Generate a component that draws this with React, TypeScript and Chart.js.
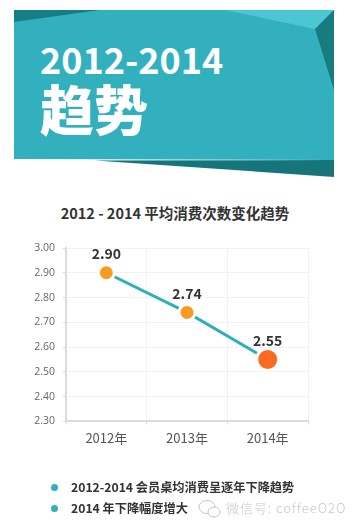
import React, { useEffect, useRef } from "react";
import { Chart, registerables } from "chart.js";

Chart.register(...registerables);

const categories = ["2012年", "2013年", "2014年"];
const values = [2.9, 2.74, 2.55];
const yMin = 2.3;
const yMax = 3.0;
const pointColors = ["#fb9a20", "#fb9a20", "#fb6a20"];
const pointRadii = [8, 8, 11];
const chartTitle = "2012 - 2014 平均消费次数变化趋势";
const bullets = ["2012-2014 会员桌均消费呈逐年下降趋势", "2014 年下降幅度增大"];

const CJK = '"Noto Sans CJK SC", "Noto Sans", sans-serif';

const valueLabels = {
  id: "valueLabels",
  afterDatasetsDraw(chart: any) {
    const { ctx } = chart;
    const meta = chart.getDatasetMeta(0);
    ctx.save();
    ctx.font = `bold 14px ${CJK}`;
    ctx.fillStyle = "#333";
    ctx.textAlign = "center";
    ctx.textBaseline = "middle";
    meta.data.forEach((el: any, i: number) => {
      ctx.fillText(values[i].toFixed(2), el.x, el.y - 19);
    });
    ctx.restore();
  },
};

export default function App() {
  const ref = useRef<HTMLCanvasElement>(null);
  useEffect(() => {
    document.body.style.margin = "0";
    const chart = new Chart(ref.current!, {
      type: "line",
      data: {
        labels: categories,
        datasets: [
          {
            data: values,
            borderColor: "#2fb0b8",
            borderWidth: 3,
            tension: 0,
            pointBackgroundColor: pointColors,
            pointBorderColor: "#ffffff",
            pointBorderWidth: 3,
            pointRadius: pointRadii,
            pointHoverRadius: pointRadii,
            clip: false,
          } as any,
        ],
      },
      options: {
        animation: false,
        responsive: false,
        plugins: { legend: { display: false }, tooltip: { enabled: false } },
        layout: { padding: { left: 0, top: 248, right: 47, bottom: 75 } },
        scales: {
          x: {
            offset: true,
            grid: {
              color: "#f1f1f6",
              tickColor: "#dcdcdc",
              tickLength: 3,
              offset: true,
            },
            border: { color: "#dcdcdc", width: 2 },
            ticks: { color: "#555", font: { family: CJK, size: 13 }, padding: 6 },
          },
          y: {
            min: yMin,
            max: yMax,
            afterFit(axis: any) {
              axis.width = 66;
            },
            grid: { color: "#f1f1f6", tickColor: "#dcdcdc", tickLength: 3 },
            border: { color: "#dcdcdc", width: 2 },
            ticks: {
              stepSize: 0.1,
              color: "#666",
              font: { family: "Open Sans, sans-serif", size: 10.5 },
              padding: 8,
              callback: (v: any) => Number(v).toFixed(2),
            },
          },
        },
      },
      plugins: [valueLabels],
    } as any);
    return () => chart.destroy();
  }, []);

  return (
    <div style={{ position: "relative", width: 355, height: 527, overflow: "hidden", background: "#fff" }}>
      <svg width={355} height={190} style={{ position: "absolute", left: 0, top: 0 }}>
        <polygon points="14,10 334,10 334,160 14,159" fill="#33b0bd" />
        <polygon points="14,10 100,10 14,22" fill="#167f86" />
        <polygon points="225,10 334,10 315,29" fill="#4dc6d3" />
        <polygon points="334,10 315,29 334,90" fill="#177b80" />
        <polygon points="95,160.5 334,160 334,177" fill="#16757b" />
      </svg>
      <div style={{ position: "absolute", left: 40, top: 33, color: "#fff", fontFamily: CJK, fontWeight: 700, fontSize: 36, lineHeight: "50px", whiteSpace: "nowrap" }}>
        2012-2014
      </div>
      <div style={{ position: "absolute", left: 40, top: 70, color: "#fff", fontFamily: CJK, fontWeight: 900, fontSize: 54, lineHeight: "76px", whiteSpace: "nowrap" }}>
        趋势
      </div>
      <div style={{ position: "absolute", left: 0, width: 350, top: 203, textAlign: "center", color: "#333", fontFamily: CJK, fontWeight: 700, fontSize: 14.5, lineHeight: "20px", whiteSpace: "nowrap" }}>
        {chartTitle}
      </div>
      <canvas ref={ref} width={355} height={527} style={{ position: "absolute", left: 0, top: 0, display: "block" }} />
      {bullets.map((b, i) => (
        <React.Fragment key={b}>
          <div style={{ position: "absolute", left: 51, top: 483.5 + i * 21, width: 7, height: 7, borderRadius: "50%", background: "#33b0bd" }} />
          <div style={{ position: "absolute", left: 71, top: 477 + i * 21, color: "#333", fontFamily: CJK, fontWeight: 700, fontSize: 12.2, lineHeight: "20px", whiteSpace: "nowrap" }}>
            {b}
          </div>
        </React.Fragment>
      ))}
      <svg width={30} height={24} style={{ position: "absolute", left: 196, top: 497 }}>
        <ellipse cx={11} cy={10} rx={8} ry={6.5} fill="none" stroke="#c4c4c4" strokeWidth={1} />
        <ellipse cx={18} cy={15} rx={6} ry={5} fill="#fff" stroke="#c4c4c4" strokeWidth={1} />
      </svg>
      <div style={{ position: "absolute", left: 226, top: 498, color: "#c8c8c8", fontFamily: CJK, fontWeight: 300, fontSize: 13, letterSpacing: 1, lineHeight: "20px", whiteSpace: "nowrap" }}>
        微信号: coffeeO2O
      </div>
    </div>
  );
}
